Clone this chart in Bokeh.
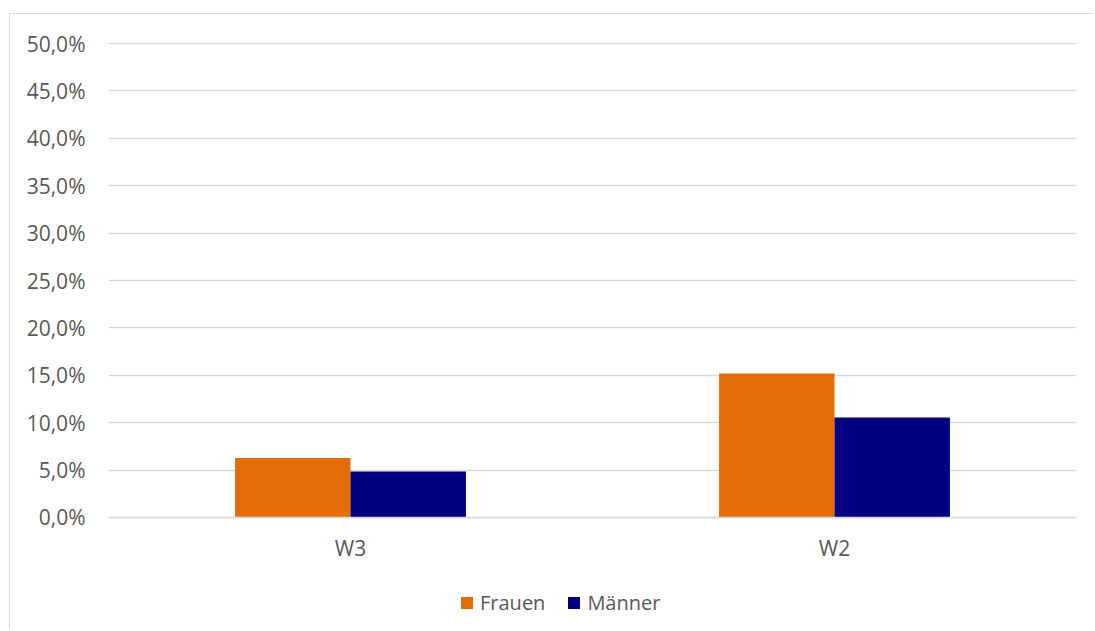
from bokeh.plotting import figure
from bokeh.models import FactorRange, Range1d, CustomJSTickFormatter, FixedTicker, Legend, LegendItem, ColumnDataSource
from bokeh.transform import dodge
from bokeh.embed import file_html
from bokeh.resources import INLINE

categories = ["W3", "W2"]
frauen = [0.0628, 0.1519]
maenner = [0.0485, 0.1055]
series_names = ["Frauen", "Männer"]
y_ticks = [0.0, 0.05, 0.10, 0.15, 0.20, 0.25, 0.30, 0.35, 0.40, 0.45, 0.50]

ORANGE = "#E36C09"
NAVY = "#000080"
TEXT = "#595959"
GRID = "#D9D9D9"
FONT = "Open Sans"

src = ColumnDataSource(dict(cat=categories, frauen=frauen, maenner=maenner))

p = figure(x_range=FactorRange(*categories, range_padding=0), y_range=Range1d(-0.1129, 0.5011),
           width=1085, height=616, output_backend="svg", toolbar_location=None,
           min_border_left=98, min_border_right=19, min_border_top=28, min_border_bottom=6)
p.styles = {"border-top": "1px solid #D9D9D9", "border-left": "1px solid #D9D9D9",
            "margin-top": "13px", "margin-left": "9px"}
p.outline_line_color = None

bw = 0.2385
r1 = p.vbar(x=dodge("cat", -bw / 2, range=p.x_range), top="frauen", width=bw, source=src,
            fill_color=ORANGE, line_color=None)
r2 = p.vbar(x=dodge("cat", bw / 2, range=p.x_range), top="maenner", width=bw, source=src,
            fill_color=NAVY, line_color=None)

p.yaxis.ticker = FixedTicker(ticks=y_ticks)
p.yaxis.formatter = CustomJSTickFormatter(code="return (tick*100).toFixed(1).replace('.', ',') + '%';")
p.yaxis.axis_line_color = None
p.yaxis.major_tick_line_color = None
p.yaxis.minor_tick_line_color = None
p.yaxis.major_label_standoff = 17
p.xaxis.fixed_location = 0
p.xaxis.axis_line_color = GRID
p.xaxis.axis_line_width = 1.5
p.xaxis.major_tick_line_color = None
p.xaxis.minor_tick_line_color = None
p.xaxis.major_label_standoff = 11
for ax in (p.xaxis, p.yaxis):
    ax.major_label_text_font = FONT
    ax.major_label_text_font_size = "21px"
    ax.major_label_text_color = TEXT

p.xgrid.grid_line_color = None
p.ygrid.grid_line_color = GRID
p.ygrid.grid_line_width = 1.5

legend = Legend(items=[LegendItem(label=series_names[0], renderers=[r1]),
                       LegendItem(label=series_names[1], renderers=[r2])],
                orientation="horizontal", location=(351, 8))
legend.label_text_font = FONT
legend.label_text_font_size = "20px"
legend.label_text_color = TEXT
legend.glyph_width = 15
legend.glyph_height = 15
legend.label_standoff = 6
legend.spacing = 21
legend.padding = 0
legend.margin = 0
legend.border_line_color = None
legend.background_fill_alpha = 0
p.add_layout(legend, "center")

open("out.html", "w").write(file_html(p, INLINE))
